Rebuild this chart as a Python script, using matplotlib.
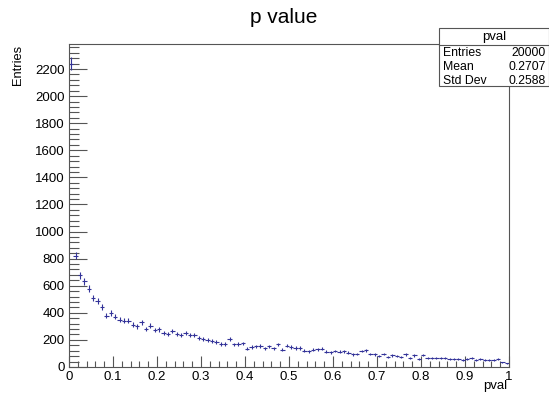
import numpy as np
import matplotlib.pyplot as plt
from matplotlib.patches import Rectangle
from matplotlib.ticker import MultipleLocator

# histogram contents (100 bins, 0..1)
counts = [
    2240, 823, 676, 634, 578, 512, 485, 443, 380, 399,
    370, 350, 340, 340, 311, 301, 331, 282, 306, 272,
    277, 252, 243, 265, 243, 235, 250, 238, 238, 215,
    208, 198, 193, 186, 169, 169, 208, 167, 171, 174,
    134, 147, 152, 154, 137, 152, 137, 167, 127, 157,
    147, 140, 140, 120, 115, 127, 130, 135, 113, 110,
    118, 113, 115, 105, 93, 95, 118, 125, 95, 93,
    83, 95, 76, 86, 83, 76, 93, 66, 86, 61,
    88, 66, 66, 69, 66, 64, 56, 61, 61, 54,
    56, 66, 49, 56, 51, 51, 49, 56, 34, 27,
]
bin_edges = np.linspace(0, 1, 101)
stats_name = "pval"
stats_rows = [("Entries", "20000"), ("Mean", "0.2707"), ("Std Dev", "0.2588")]

plt.rcParams['font.family'] = ['Liberation Sans', 'DejaVu Sans']

centers = 0.5 * (bin_edges[:-1] + bin_edges[1:])
widths = np.diff(bin_edges)
y = np.array(counts, dtype=float)

fig = plt.figure(figsize=(5.49, 3.95), dpi=100)
ax = fig.add_axes([0.1257, 0.0709, 0.8015, 0.8177])
ax.errorbar(centers, y, xerr=widths / 2, yerr=np.sqrt(y), fmt='none',
            ecolor='#333399', elinewidth=0.8, capsize=0)

ax.set_xlim(0, 1)
ax.set_ylim(0, 2385)
ax.xaxis.set_major_locator(MultipleLocator(0.1))
ax.xaxis.set_minor_locator(MultipleLocator(0.02))
ax.yaxis.set_major_locator(MultipleLocator(200))
ax.yaxis.set_minor_locator(MultipleLocator(40))
ax.xaxis.set_major_formatter(plt.FuncFormatter(lambda v, p: f"{v:g}"))
ax.tick_params(which='both', direction='in', top=False, right=False,
               labelsize=9.5, color='#555555', width=0.8)
ax.tick_params(axis='y', which='major', length=13, pad=3)
ax.tick_params(axis='y', which='minor', length=7)
ax.tick_params(axis='x', which='major', length=8, pad=3)
ax.tick_params(axis='x', which='minor', length=4)
for s in ax.spines.values():
    s.set_color('#555555')
    s.set_linewidth(0.8)

fig.text(0.517, 0.955, "p value", ha='center', va='center', fontsize=15)
fig.text(0.032, 0.887, "Entries", rotation=90, ha='center', va='top', fontsize=9.3)
fig.text(0.9235, 1 - 380 / 395, "pval", ha='right', va='top', fontsize=9.5)

# stats box
bx0, bx1 = 439 / 549, 548.5 / 549
by_top, by_bot = 1 - 28 / 395, 1 - 86 / 395
fig.patches.append(Rectangle((bx0, by_bot), bx1 - bx0, by_top - by_bot,
                             transform=fig.transFigure, facecolor='white',
                             edgecolor='#555555', linewidth=0.8, zorder=5))
sep = 1 - 45 / 395
fig.add_artist(plt.Line2D([bx0, bx1], [sep, sep], transform=fig.transFigure,
                          color='#555555', linewidth=0.8, zorder=6))
fig.text((bx0 + bx1) / 2, 1 - 37 / 395, stats_name, ha='center', va='center',
         fontsize=9.5, zorder=7)
for i, (k, v) in enumerate(stats_rows):
    yy = 1 - (53.5 + 13.5 * i) / 395
    fig.text(bx0 + 0.007, yy, k, ha='left', va='center', fontsize=8.8, zorder=7)
    fig.text(bx1 - 0.005, yy, v, ha='right', va='center', fontsize=8.8, zorder=7)

fig.savefig("out.png", dpi=100)
